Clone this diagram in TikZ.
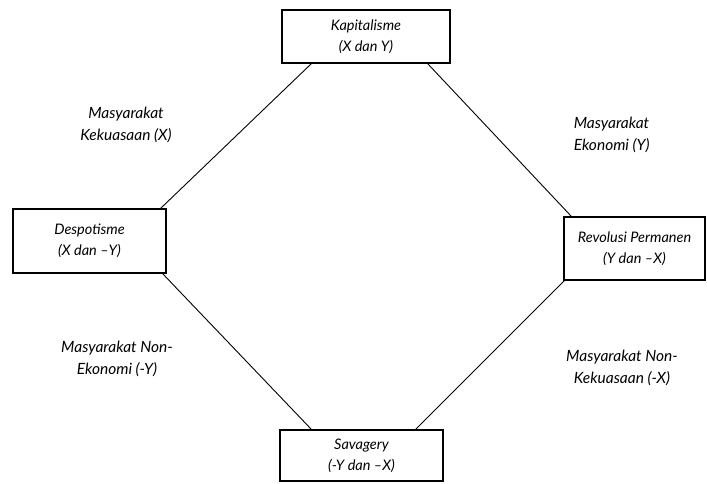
\documentclass[tikz,border=0pt]{standalone}
\usepackage{fontspec}
\setmainfont{Lato}

\begin{document}
\begin{tikzpicture}[x=1pt, y=-1pt,
        box/.style={draw, line width=1.2pt, inner sep=0pt, align=center,
            font=\fontsize{14.5}{21}\selectfont\itshape},
        lbl/.style={align=center, font=\fontsize{15.5}{22}\selectfont\itshape}]
        \useasboundingbox (0,0) rectangle (707,483);
        \begin{scope}[line width=0.9pt]
            % the four boxes
            \node [box, minimum width=168pt, minimum height=53pt] (kap)  at (366,36.5)  {Kapitalisme\\(X dan Y)};
            \node [box, minimum width=153pt, minimum height=64pt] (desp) at (89.5,241)  {Despotisme\\(X dan --Y)};
            \node [box, minimum width=141pt, minimum height=63pt,
                   font=\fontsize{14.5}{21}\selectfont\itshape] (rev) at (634.5,248.5) {Revolusi Permanen\\(Y dan --X)};
            \node [box, minimum width=163pt, minimum height=51pt] (sav)  at (361.5,455.5) {Savagery\\(-Y dan --X)};

            \draw ([xshift=30pt]kap.south west)  -- ([xshift=-6pt]desp.north east);
            \draw ([xshift=-23pt]kap.south east) -- ([xshift=8pt]rev.north west);
            \draw ([xshift=-4pt]desp.south east) -- ([xshift=32pt]sav.north west);
            \draw ([xshift=1pt]rev.south west)   -- ([xshift=-28pt]sav.north east);

            \node [lbl] (kuasa)    at (126,125) {Masyarakat\\Kekuasaan (X)};
            \node [lbl, align=left, anchor=west] (ekon) at (570,135) {Masyarakat\\Ekonomi (Y)};
            \node [lbl] (nonekon)  at (117,359) {Masyarakat Non-\\Ekonomi (-Y)};
            \node [lbl] (nonkuasa) at (622,368) {Masyarakat Non-\\Kekuasaan (-X)};
        \end{scope}
\end{tikzpicture}
\end{document}
